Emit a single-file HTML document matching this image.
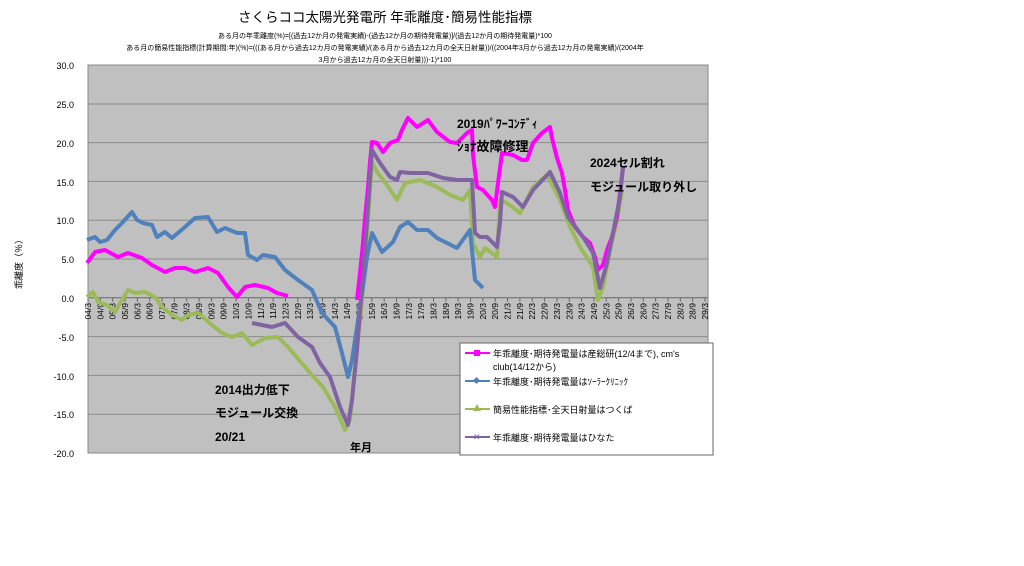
<!DOCTYPE html>
<html><head><meta charset="utf-8"><style>
body{margin:0;background:#fff;}
svg text{font-family:"Liberation Sans","Noto Sans CJK JP",sans-serif;}
</style></head><body>
<svg width="1024" height="561" xmlns="http://www.w3.org/2000/svg">
<rect width="1024" height="561" fill="#fff"/>
<text x="385" y="22" font-size="13.5" text-anchor="middle">さくらココ太陽光発電所  年乖離度･簡易性能指標</text>
<text x="385" y="38" font-size="7" text-anchor="middle">ある月の年乖離度(%)=[(過去12か月の発電実績)-(過去12か月の期待発電量)]/(過去12か月の期待発電量)*100</text>
<text x="385" y="50" font-size="7" text-anchor="middle">ある月の簡易性能指標(計算期間:年)(%)=(((ある月から過去12カ月の発電実績)/(ある月から過去12カ月の全天日射量))/((2004年3月から過去12カ月の発電実績)/(2004年</text>
<text x="385" y="62" font-size="7" text-anchor="middle">3月から過去12カ月の全天日射量)))-1)*100</text>
<rect x="88" y="65" width="620" height="388" fill="#c0c0c0" stroke="#888" stroke-width="1"/>
<g stroke="#8c8c8c" stroke-width="1">
<line x1="88" y1="104" x2="708" y2="104"/><line x1="88" y1="142.6" x2="708" y2="142.6"/>
<line x1="88" y1="181.4" x2="708" y2="181.4"/><line x1="88" y1="220.2" x2="708" y2="220.2"/>
<line x1="88" y1="259" x2="708" y2="259"/><line x1="88" y1="336.6" x2="708" y2="336.6"/>
<line x1="88" y1="375.4" x2="708" y2="375.4"/><line x1="88" y1="414.2" x2="708" y2="414.2"/>
</g>
<line x1="88" y1="297.8" x2="708" y2="297.8" stroke="#666" stroke-width="1"/>
<g font-size="9" text-anchor="end">
<text x="74" y="69">30.0</text><text x="74" y="108">25.0</text><text x="74" y="147">20.0</text>
<text x="74" y="186">15.0</text><text x="74" y="224">10.0</text><text x="74" y="263">5.0</text>
<text x="74" y="302">0.0</text><text x="74" y="341">-5.0</text><text x="74" y="380">-10.0</text>
<text x="74" y="418">-15.0</text><text x="74" y="457">-20.0</text>
</g>
<text transform="translate(22,262) rotate(-90)" font-size="9" text-anchor="middle">乖離度（％）</text>
<g id="ticks" stroke="#666" stroke-width="1"></g>
<g id="xl" font-size="8.5"></g>
<g fill="none" stroke-width="4" stroke-linejoin="round">
<polyline stroke="#9bbb59" points="87,297 93,292 98,302 107,305 115,312 128,290 135,293 145,292 155,297 162,307 172,315 182,320 188,315 198,313 212,325 222,333 232,337 242,333 252,345 265,338 278,337 288,347 310,373 323,387 335,407 345,430 350,420 355,367 362,300 367,233 372,162 377,172 387,185 397,200 405,183 420,180 437,187 450,195 463,200 470,190 473,243 480,257 485,248 497,257 500,200 507,203 520,213 533,187 547,175 560,200 570,227 580,247 593,267 598,300 603,287 610,250 617,220 622,190"/>
<polyline stroke="#4f81bd" points="87,240 95,237 100,242 107,240 115,230 122,223 132,212 137,220 143,223 152,225 157,237 165,232 172,238 185,227 195,218 208,217 217,232 225,228 237,233 245,233 248,255 257,260 263,255 275,257 285,270 298,280 312,290 322,313 335,327 342,353 348,377 352,360 357,327 363,287 367,257 372,233 382,252 393,242 400,227 408,222 417,230 428,230 437,238 457,248 470,230 472,250 475,280 483,288"/>
<polyline stroke="#ff00ff" points="87,263 95,252 105,250 118,257 128,253 142,258 152,265 165,272 175,268 185,268 195,272 208,268 218,273 228,287 237,297 245,287 255,285 268,288 277,293 288,296"/>
<polyline stroke="#ff00ff" points="357,300 360,273 363,243 365,218 368,188 370,162 372,142 377,143 383,152 390,143 398,140 402,130 408,118 417,127 428,120 437,132 450,142 457,143 467,133 472,130 473,155 477,187 483,190 492,200 495,207 498,183 502,153 513,155 522,160 527,160 533,143 542,133 550,127 552,138 557,158 562,173 565,190 568,210 575,227 583,237 590,243 595,257 598,270 603,265 607,250 612,237 617,217 620,193 623,167"/>
<polyline stroke="#8064a2" points="252,323 272,327 285,323 298,337 312,347 320,363 330,377 340,407 348,425 352,400 357,350 362,287 367,223 372,150 380,163 390,177 397,180 400,172 410,173 428,173 443,178 457,180 472,180 475,233 480,237 487,237 497,247 500,223 502,192 513,197 523,207 533,190 550,172 560,193 568,217 583,237 593,253 600,288 607,263 613,233 620,197 623,167"/>
</g>
<g font-weight="bold" font-size="12">
<text x="457" y="128">2019ﾊﾟﾜｰｺﾝﾃﾞｨ</text>
<text x="457" y="151" font-size="13">ｼｮﾅ故障修理</text>
<text x="590" y="167">2024セル割れ</text>
<text x="590" y="191">モジュール取り外し</text>
<text x="215" y="394">2014出力低下</text>
<text x="215" y="417">モジュール交換</text>
<text x="215" y="441">20/21</text>
<text x="350" y="451" font-size="11">年月</text>
</g>
<rect x="460" y="343" width="253" height="112" fill="#fff" stroke="#666"/>
<g font-size="9">
<line x1="465" y1="353" x2="490" y2="353" stroke="#ff00ff" stroke-width="2"/><rect x="474" y="350" width="6" height="6" fill="#ff00ff"/>
<text x="493" y="357">年乖離度･期待発電量は産総研(12/4まで), cm's</text>
<text x="493" y="370">club(14/12から)</text>
<line x1="465" y1="381" x2="490" y2="381" stroke="#4f81bd" stroke-width="2"/><rect x="474" y="378" width="5" height="5" fill="#4f81bd" transform="rotate(45 476.5 380.5)"/>
<text x="493" y="385">年乖離度･期待発電量はｿｰﾗｰｸﾘﾆｯｸ</text>
<line x1="465" y1="409" x2="490" y2="409" stroke="#9bbb59" stroke-width="2"/><polygon points="477,404 481,411 473,411" fill="#9bbb59"/>
<text x="493" y="413">簡易性能指標･全天日射量はつくば</text>
<line x1="465" y1="437" x2="490" y2="437" stroke="#8064a2" stroke-width="2"/><text x="473" y="440" font-size="9" fill="#8064a2">✕</text>
<text x="493" y="441">年乖離度･期待発電量はひなた</text>
</g>
<script>
var t=document.getElementById('ticks'),xl=document.getElementById('xl'),ns='http://www.w3.org/2000/svg';
for(var i=0;i<=50;i++){var x=88+i*12.34;
var l=document.createElementNS(ns,'line');l.setAttribute('x1',x);l.setAttribute('x2',x);l.setAttribute('y1',297.8);l.setAttribute('y2',301.8);t.appendChild(l);
var yr=4+Math.floor(i/2),m=i%2?9:3;var s=(yr<10?'0':'')+yr+'/'+m;
var tx=document.createElementNS(ns,'text');tx.setAttribute('transform','translate('+(x+3)+',303) rotate(-90)');tx.setAttribute('text-anchor','end');tx.textContent=s;xl.appendChild(tx);}
</script>
</svg>
</body></html>
